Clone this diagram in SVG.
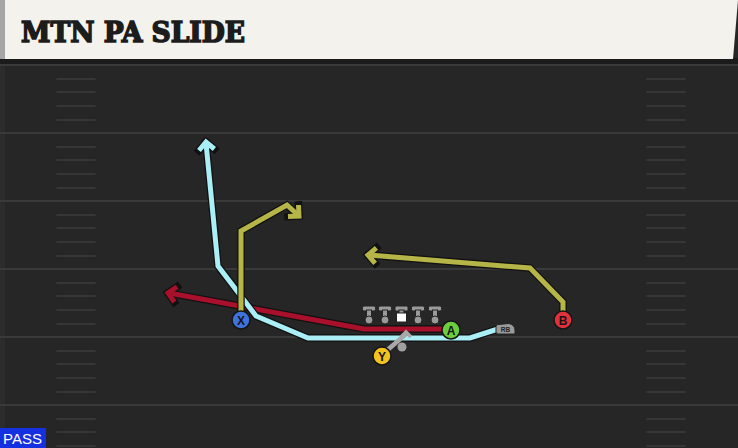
<svg xmlns="http://www.w3.org/2000/svg" width="738" height="448" viewBox="0 0 738 448">
<defs>
<style>
.yl{stroke:#3a3a3a;stroke-width:2}
.hm{stroke:#3d3d3d;stroke-width:1.6;stroke-linecap:round}
.o{fill:none;stroke:#111;stroke-width:7.5;stroke-linejoin:miter;stroke-linecap:square}
.r{fill:none;stroke-width:5;stroke-linejoin:miter;stroke-linecap:butt}
.blue{stroke:#aaeef6}
.olive{stroke:#b5b548}
.red{stroke:#a8102c}
.pc{stroke:#151515;stroke-width:1.5}
.pl{font-family:"Liberation Sans",Arial,sans-serif;font-weight:bold;font-size:12px;fill:#151515;text-anchor:middle}
.ol{fill:#9a9a9a;stroke:#222;stroke-width:1}
</style>
<g id="hash">
<line class="hm" x1="57" x2="95" y1="0" y2="0"/>
<line class="hm" x1="647" x2="685" y1="0" y2="0"/>
</g>
<g id="hash4">
<use href="#hash" y="14"/><use href="#hash" y="27"/><use href="#hash" y="41"/><use href="#hash" y="55"/>
</g>
<g id="tman">
<rect class="ol" x="-6.5" y="0" width="13" height="5" rx="1.5"/>
<rect class="ol" x="-2.5" y="4" width="5" height="10"/>
<circle class="ol" cx="0" cy="14" r="4"/>
</g>
</defs>
<rect width="738" height="448" fill="#262626"/>
<rect x="0" y="62" width="5" height="366" fill="#2c2c2c"/>
<g id="field">
<rect x="0" y="58" width="738" height="6" fill="#1b1b1b"/>
<line class="yl" x1="0" x2="738" y1="65" y2="65"/>
<line class="yl" x1="0" x2="738" y1="133" y2="133"/>
<line class="yl" x1="0" x2="738" y1="201" y2="201"/>
<line class="yl" x1="0" x2="738" y1="269" y2="269"/>
<line class="yl" x1="0" x2="738" y1="337" y2="337"/>
<line class="yl" x1="0" x2="738" y1="405" y2="405"/>
<use href="#hash4" y="65"/><use href="#hash4" y="133"/><use href="#hash4" y="201"/><use href="#hash4" y="269"/><use href="#hash4" y="337"/>
<use href="#hash" y="419"/><use href="#hash" y="432"/><use href="#hash" y="446"/>
</g>
<g id="header">
<polygon points="0,0 738,0 733,59 0,59" fill="#f4f2ec"/>
<rect x="0" y="0" width="5" height="59" fill="#a5a5a5"/>
<text x="21" y="42" font-family="'DejaVu Serif','Liberation Serif',serif" font-weight="900" font-size="28" fill="#1c1c1c" stroke="#1c1c1c" stroke-width="1.6" stroke-linejoin="miter" textLength="224" lengthAdjust="spacingAndGlyphs">MTN PA SLIDE</text>
</g>
<g id="connectors">
<g id="route-red">
<polyline class="o" points="444,329 364,329 169,293"/>
<polyline class="o" points="174.3,302.1 168,293 177.1,286.7"/>
<polyline class="r red" points="444,329 364,329 169,293"/>
<polyline class="r red" points="174.3,302.1 168,293 177.1,286.7"/>
</g>
<g id="route-blue">
<polyline class="o" points="498,329 470,338 308,338 256,316 218,266 206,143"/>
<polyline class="o" points="199,150.5 206,142 214.4,149"/>
<polyline class="r blue" points="498,329 470,338 308,338 256,316 218,266 206,143"/>
<polyline class="r blue" points="199,150.5 206,142 214.4,149"/>
</g>
<g id="route-olive-x">
<polyline class="o" points="241,312 241,231 287,205 298,215"/>
<polyline class="o" points="298.5,205 299,216 288,216.5"/>
<polyline class="r olive" points="241,312 241,231 287,205 298,215"/>
<polyline class="r olive" points="298.5,205 299,216 288,216.5"/>
</g>
<g id="route-olive-b">
<polyline class="o" points="563,313 563,302 530,268 369,255"/>
<polyline class="o" points="375.1,263.4 368,255 376.4,247.9"/>
<polyline class="r olive" points="563,313 563,302 530,268 369,255"/>
<polyline class="r olive" points="375.1,263.4 368,255 376.4,247.9"/>
</g>
<g id="route-y">
<line x1="384" y1="353" x2="406" y2="334" stroke="#a8a8a8" stroke-width="4.5"/>
<polyline points="401,337 406,332 411,337" fill="none" stroke="#a8a8a8" stroke-width="3.5"/>
<circle cx="402" cy="347" r="4.5" fill="#a0a0a0"/>
</g>
</g>
<g id="linemen">
<use href="#tman" x="369" y="306"/>
<use href="#tman" x="385" y="306"/>
<g id="center">
<rect class="ol" x="395" y="306" width="13" height="5" rx="1.5"/>
<rect class="ol" x="399" y="310" width="5" height="4"/>
<rect x="396.5" y="313" width="10" height="9" fill="#fff" stroke="#222" stroke-width="1"/>
</g>
<use href="#tman" x="418" y="306"/>
<use href="#tman" x="435" y="306"/>
</g>
<g id="rb">
<path d="M498,324.5 L509,323.5 Q515,325 515,330 L515,334 L498,334 Q496,334 496,332 L496,326.5 Q496,324.5 498,324.5 Z" fill="#9a9a9a" stroke="#222" stroke-width="1"/>
<text x="505.5" y="332" font-family="'Liberation Sans',Arial,sans-serif" font-weight="bold" font-size="6.5" fill="#222" text-anchor="middle">RB</text>
</g>
<g id="player-x">
<circle class="pc" cx="241" cy="320" r="9" fill="#3f72dc"/>
<text class="pl" x="241" y="324.5">X</text>
</g>
<g id="player-y">
<circle class="pc" cx="382" cy="356" r="9" fill="#f2c21e"/>
<text class="pl" x="382" y="360.5">Y</text>
</g>
<g id="player-a">
<circle class="pc" cx="451" cy="330" r="9" fill="#6ccd3c"/>
<text class="pl" x="451" y="334.5">A</text>
</g>
<g id="player-b">
<circle class="pc" cx="563" cy="320" r="9" fill="#e2303c"/>
<text class="pl" x="563" y="324.5">B</text>
</g>
<g id="pass-badge">
<rect x="0" y="428" width="46" height="20" fill="#1530e0"/>
<text x="3" y="444" font-family="'Liberation Sans Narrow','Liberation Sans',Arial,sans-serif" font-size="15" fill="#fff" textLength="39" lengthAdjust="spacingAndGlyphs">PASS</text>
</g>
</svg>
